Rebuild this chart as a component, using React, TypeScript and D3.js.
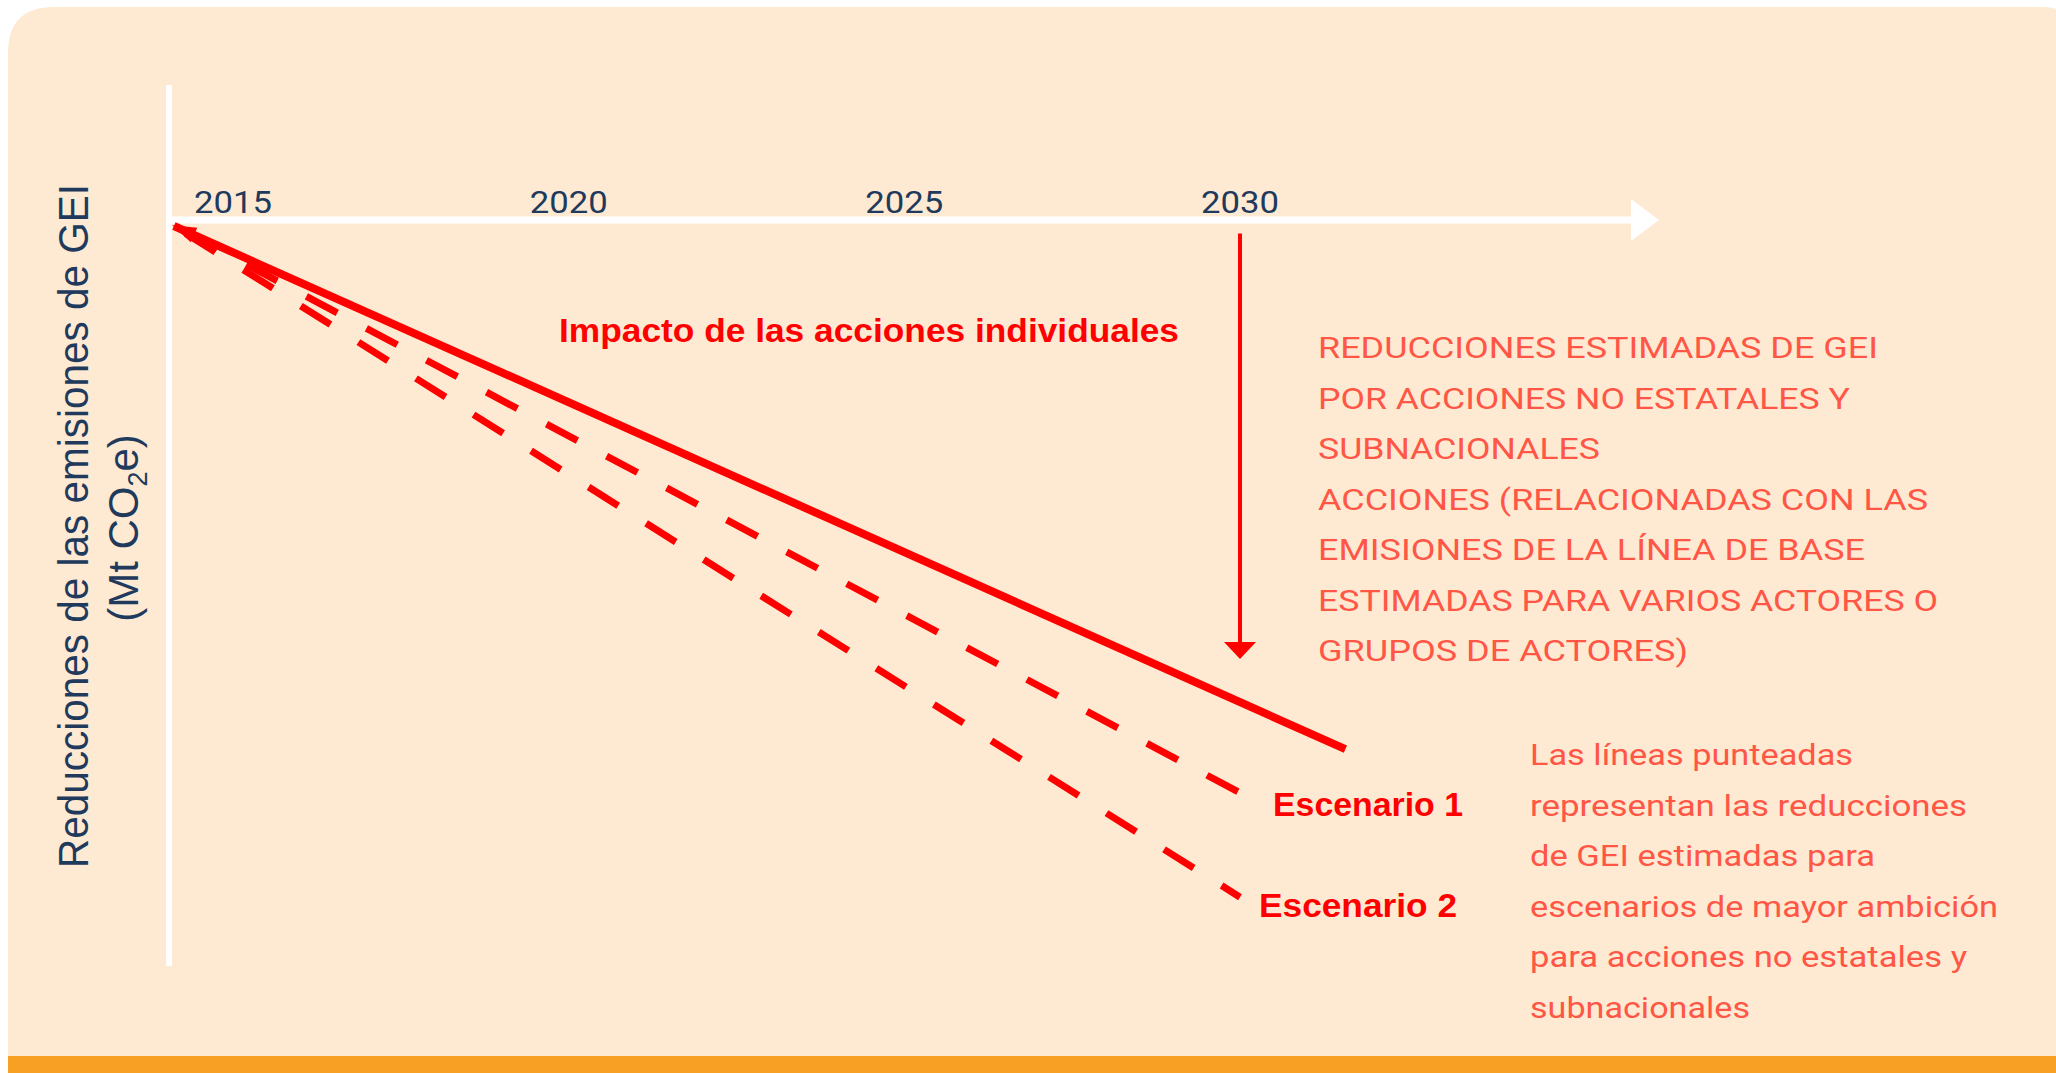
import React from 'react';
import * as d3 from 'd3';

const W = 2056;
const H = 1073;

// ---- data ----
const yearTicks = [2015, 2020, 2025, 2030];
const startYear = 2014.12;
const impactYears = [startYear, 2031.57];
const impactValues = [0, 70.7];
const scenarioYears = [startYear, 2030];
const scenario1Values = [0, 76.6];
const scenario2Values = [0, 90.7];
const arrowYear = 2030;
const arrowValues = [1, 58.5];

const impactLabel = 'Impacto de las acciones individuales';
const scenarioLabels = ['Escenario 1', 'Escenario 2'];
const yTitleLine1 = 'Reducciones de las emisiones de GEI';
const upperNote = [
  'REDUCCIONES ESTIMADAS DE GEI',
  'POR ACCIONES NO ESTATALES Y',
  'SUBNACIONALES',
  'ACCIONES (RELACIONADAS CON LAS',
  'EMISIONES DE LA LÍNEA DE BASE',
  'ESTIMADAS PARA VARIOS ACTORES O',
  'GRUPOS DE ACTORES)',
];
const upperNoteWidths = [560, 532, 282, 610, 547, 620, 370];
const lowerNote = [
  'Las líneas punteadas',
  'representan las reducciones',
  'de GEI estimadas para',
  'escenarios de mayor ambición',
  'para acciones no estatales y',
  'subnacionales',
];
const lowerNoteWidths = [323, 437, 345, 468, 437, 220];

// ---- styles ----
const BG = '#FEEAD2';
const ORANGE = '#F8A024';
const RED = '#FF0000';
const CORAL = '#FF5646';
const NAVY = '#1F3A5C';
const SANS = '"Liberation Sans", Arial, sans-serif';
const ROBOTO = 'Roboto, "Liberation Sans", Arial, sans-serif';

export default function App() {
  const x = d3.scaleLinear().domain([2015, 2030]).range([233, 1240]);
  const y = d3.scaleLinear().domain([0, 100]).range([226, 966]);

  const line = d3
    .line<[number, number]>()
    .x((d) => x(d[0]))
    .y((d) => y(d[1]));

  const impactPts = impactYears.map((yr, i) => [yr, impactValues[i]] as [number, number]);
  const s1Pts = scenarioYears.map((yr, i) => [yr, scenario1Values[i]] as [number, number]);
  const s2Pts = scenarioYears.map((yr, i) => [yr, scenario2Values[i]] as [number, number]);

  const axisX = 169;
  const axisY = 220;
  const arrowX = x(arrowYear);
  const arrowTop = y(arrowValues[0]);
  const arrowTip = y(arrowValues[1]);

  const panelPath = (() => {
    const l = 8, t = 7, r = 2070, b = 1073, rl = 46, rr = 26;
    return `M${l},${b} L${l},${t + rl} Q${l},${t} ${l + rl},${t} L${r - rr},${t} Q${r},${t} ${r},${t + rr} L${r},${b} Z`;
  })();

  return (
    <div style={{ position: 'absolute', left: 0, top: 0, width: W, height: H, overflow: 'hidden' }}>
      <svg width={W} height={H} viewBox={`0 0 ${W} ${H}`} style={{ display: 'block' }}>
        <defs>
          <marker
            id="startArrow"
            markerUnits="userSpaceOnUse"
            markerWidth={26}
            markerHeight={18}
            refX={2}
            refY={9}
            orient="auto"
          >
            <path d="M0,9 L24,1 L24,17 Z" fill={RED} />
          </marker>
        </defs>
        <rect x={0} y={0} width={W} height={H} fill="#ffffff" />
        <path d={panelPath} fill={BG} />
        <rect x={8} y={1056} width={W - 8} height={H - 1056} fill={ORANGE} />

        {/* axes */}
        <line x1={axisX} x2={axisX} y1={85} y2={966} stroke="#ffffff" strokeWidth={6} />
        <line x1={axisX - 3} x2={1634} y1={axisY} y2={axisY} stroke="#ffffff" strokeWidth={7} />
        <path d={`M1631,${axisY - 21} L1659,${axisY} L1631,${axisY + 21} Z`} fill="#ffffff" />

        {yearTicks.map((yr) => (
          <text
            key={yr}
            x={x(yr)}
            y={213}
            textAnchor="middle"
            fontFamily={ROBOTO}
            fontSize={32}
            fill={NAVY}
            textLength={78}
            lengthAdjust="spacingAndGlyphs"
          >
            {yr}
          </text>
        ))}

        {/* y-axis title */}
        <g transform="translate(88,526) rotate(-90)">
          <text
            x={0}
            y={0}
            textAnchor="middle"
            fontFamily={SANS}
            fontSize={42}
            fill={NAVY}
            textLength={684}
            lengthAdjust="spacingAndGlyphs"
          >
            {yTitleLine1}
          </text>
        </g>
        <g transform="translate(138,528) rotate(-90)">
          <text x={0} y={0} textAnchor="middle" fontFamily={SANS} fontSize={42} fill={NAVY}>
            (Mt CO
            <tspan fontSize={27} dy={9}>2</tspan>
            <tspan dy={-9}>e)</tspan>
          </text>
        </g>

        {/* series */}
        <path
          d={line(s2Pts) || ''}
          fill="none"
          stroke={RED}
          strokeWidth={7}
          strokeDasharray="35 33"
          strokeDashoffset={-14}
        />
        <path
          d={line(s1Pts) || ''}
          fill="none"
          stroke={RED}
          strokeWidth={7}
          strokeDasharray="35 33"
          strokeDashoffset={-14}
        />
        <path
          d={line(impactPts) || ''}
          fill="none"
          stroke={RED}
          strokeWidth={8}
          markerStart="url(#startArrow)"
        />

        {/* vertical arrow at 2030 */}
        <line x1={arrowX} x2={arrowX} y1={arrowTop} y2={arrowTip - 14} stroke={RED} strokeWidth={4} />
        <path
          d={`M${arrowX - 16},${arrowTip - 17} L${arrowX + 16},${arrowTip - 17} L${arrowX},${arrowTip} Z`}
          fill={RED}
        />

        {/* labels */}
        <text
          x={559}
          y={342}
          fontFamily={SANS}
          fontWeight="bold"
          fontSize={34}
          fill={RED}
          textLength={620}
          lengthAdjust="spacingAndGlyphs"
        >
          {impactLabel}
        </text>
        <text
          x={1273}
          y={816}
          fontFamily={SANS}
          fontWeight="bold"
          fontSize={34}
          fill={RED}
          textLength={190}
          lengthAdjust="spacingAndGlyphs"
        >
          {scenarioLabels[0]}
        </text>
        <text
          x={1259}
          y={917}
          fontFamily={SANS}
          fontWeight="bold"
          fontSize={34}
          fill={RED}
          textLength={198}
          lengthAdjust="spacingAndGlyphs"
        >
          {scenarioLabels[1]}
        </text>

        {upperNote.map((t, i) => (
          <text
            key={t}
            x={1318}
            y={358 + i * 50.5}
            fontFamily={ROBOTO}
            fontSize={30}
            fill={CORAL}
            textLength={upperNoteWidths[i]}
            lengthAdjust="spacingAndGlyphs"
          >
            {t}
          </text>
        ))}

        {lowerNote.map((t, i) => (
          <text
            key={t}
            x={1530}
            y={765 + i * 50.5}
            fontFamily={ROBOTO}
            fontSize={30}
            fill={CORAL}
            textLength={lowerNoteWidths[i]}
            lengthAdjust="spacingAndGlyphs"
          >
            {t}
          </text>
        ))}
      </svg>
    </div>
  );
}
